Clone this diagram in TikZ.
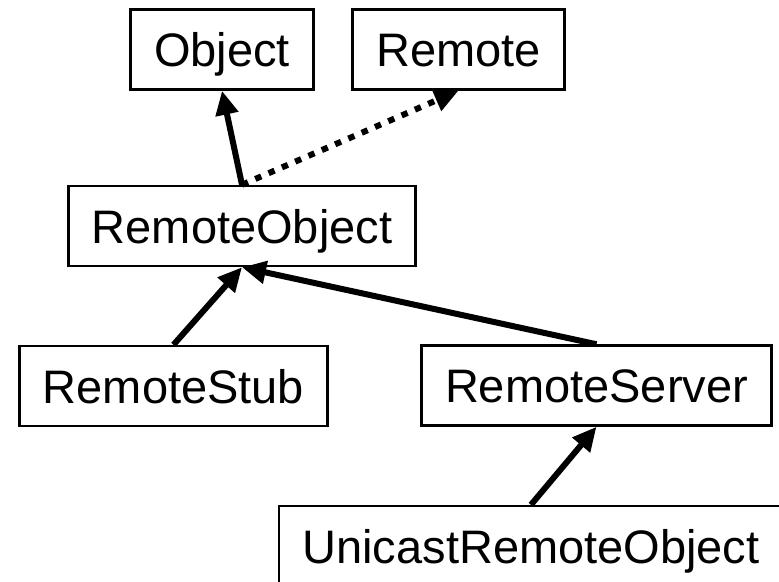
\documentclass[tikz,border=0pt]{standalone}
\usepackage{fontspec}
\setmainfont{Liberation Sans}
\usetikzlibrary{arrows.meta}

\begin{document}
\begin{tikzpicture}[x=1pt, y=-1pt, very thick, ]
			\tikzstyle{cls}    = [rectangle, draw=black, line width=2.5pt, inner xsep=23.5pt, inner ysep=0pt, text height=57pt, text depth=23pt, font=\fontsize{47pt}{56pt}\selectfont]
			\tikzstyle{extend} = [line width=6pt, -{Triangle[length=24pt, width=22pt]}]
			\tikzstyle{impl}   = [extend, dash pattern=on 6.5pt off 8pt]

			\useasboundingbox (0, 0) rectangle (779, 581);

			\foreach \name/\x/\y/\text in {object/222/49.5/Object, remote/458.5/49.5/Remote, ro/242/226/RemoteObject, stub/173.5/386/RemoteStub, server/596.5/385.5/RemoteServer, unicast/531/546/UnicastRemoteObject}
				\node[cls] (\name) at (\x, \y) {\text};

			\foreach \from/\to in {ro/object, stub/ro, server/ro, unicast/server}
				\path[extend] (\from.north) edge (\to.south);

			\path[impl] (ro.north) edge (remote.south);

		\end{tikzpicture}
\end{document}
